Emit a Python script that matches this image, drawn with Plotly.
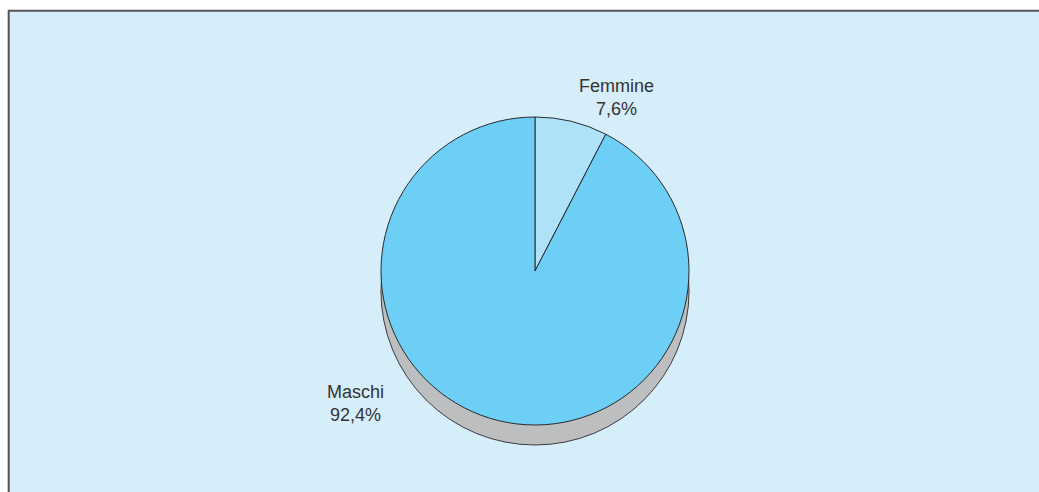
import plotly.graph_objects as go

# Data
labels = ["Femmine", "Maschi"]
values = [7.6, 92.4]
value_text = ["7,6%", "92,4%"]
slice_colors = ["#aee2f8", "#6dcff6"]

W, H = 1039, 492


def px_x(x):
    return x / W


def px_y(y):
    return 1 - y / H


# Pie geometry (pixels)
cx, cy, r, depth = 535, 271, 154, 20

fig = go.Figure()

# Gray "depth" pie drawn underneath, offset downward
fig.add_trace(go.Pie(
    values=[sum(values)],
    labels=["shadow"],
    marker=dict(colors=["#bcbec0"], line=dict(color="#3a3a3a", width=1)),
    textinfo="none",
    hoverinfo="skip",
    showlegend=False,
    sort=False,
    domain=dict(x=[px_x(cx - r), px_x(cx + r)],
                y=[px_y(cy + depth + r), px_y(cy + depth - r)]),
))

fig.add_trace(go.Pie(
    values=values,
    labels=labels,
    marker=dict(colors=slice_colors, line=dict(color="#2a2a2a", width=1)),
    textinfo="none",
    sort=False,
    direction="clockwise",
    rotation=0,
    showlegend=False,
    domain=dict(x=[px_x(cx - r), px_x(cx + r)],
                y=[px_y(cy + r), px_y(cy - r)]),
))

# Slice labels placed outside
label_pos = [(616, 97), (355, 403)]
for lab, txt, (lx, ly) in zip(labels, value_text, label_pos):
    fig.add_annotation(
        x=px_x(lx), y=px_y(ly), xref="paper", yref="paper",
        xanchor="center", yanchor="middle",
        text=f"{lab}<br>{txt}", showarrow=False,
        font=dict(family="Liberation Sans, Arial, sans-serif", size=18, color="#333333"),
        align="center",
    )

# Background panel with top/left border
fig.add_shape(type="rect", xref="paper", yref="paper",
              x0=px_x(8), x1=1, y0=0, y1=px_y(10),
              fillcolor="#d6edfa", line=dict(width=0), layer="below")
fig.add_shape(type="line", xref="paper", yref="paper",
              x0=px_x(8), x1=1, y0=px_y(10.7), y1=px_y(10.7),
              line=dict(color="#555555", width=2))
fig.add_shape(type="line", xref="paper", yref="paper",
              x0=px_x(8.7), x1=px_x(8.7), y0=0, y1=px_y(10),
              line=dict(color="#555555", width=2))

fig.update_layout(
    width=W, height=H,
    margin=dict(l=0, r=0, t=0, b=0),
    paper_bgcolor="white",
    plot_bgcolor="white",
)

# drop the default page margin so the figure sits at the window's corner
fig.write_html("out.html", config={"displayModeBar": False},
               post_script="document.body.style.margin='0';")
